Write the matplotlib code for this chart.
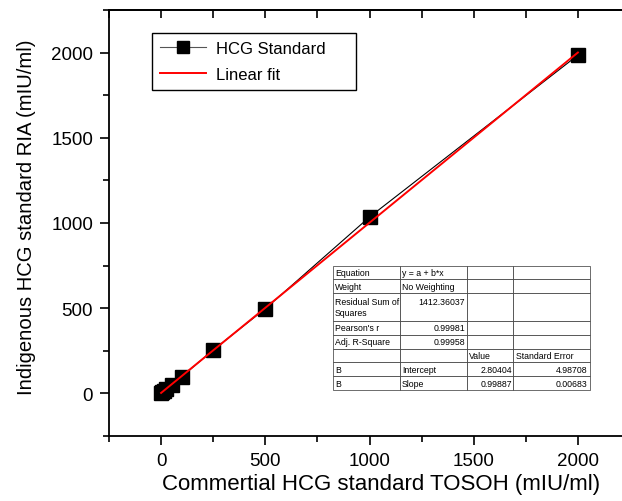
import numpy as np
import matplotlib
matplotlib.use('Agg')
import matplotlib.pyplot as plt
from matplotlib.ticker import MultipleLocator

plt.rcParams['font.family'] = ['Liberation Sans', 'DejaVu Sans']

# data
tosoh = [0, 6.25, 12.5, 25, 50, 100, 250, 500, 1000, 2000]
ria = [0, 6, 13, 24, 49, 99, 255, 497, 1035, 1985]

# fit parameters as printed in the table
intercept = 2.80404
slope = 0.99887

table_rows = [
    ['Equation', 'y = a + b*x', '', ''],
    ['Weight', 'No Weighting', '', ''],
    ['Residual Sum of\nSquares', '1412.36037\n', '', ''],
    ["Pearson's r", '0.99981', '', ''],
    ['Adj. R-Square', '0.99958', '', ''],
    ['', '', 'Value', 'Standard Error'],
    ['B', 'Intercept', '2.80404', '4.98708'],
    ['B', 'Slope', '0.99887', '0.00683'],
]

fig = plt.figure(figsize=(6.22, 5.02), dpi=100)
ax = fig.add_axes([109 / 622, 65 / 502, 521 / 622, 426 / 502])

ax.plot(tosoh, ria, color='black', lw=0.8, marker='s', ms=9.5,
        mfc='black', mec='black', label='HCG Standard', zorder=3)
xfit = np.array([0, 2000])
ax.plot(xfit, intercept + slope * xfit, color='red', lw=1.4,
        label='Linear fit', zorder=4)

ax.set_xlim(-250, 2250)
ax.set_ylim(-250, 2250)
ax.xaxis.set_major_locator(MultipleLocator(500))
ax.xaxis.set_minor_locator(MultipleLocator(250))
ax.yaxis.set_major_locator(MultipleLocator(500))
ax.yaxis.set_minor_locator(MultipleLocator(250))
ax.tick_params(which='both', labelsize=13.5, width=1.2, direction='out', pad=5)
ax.tick_params(which='major', length=6.5)
ax.tick_params(which='minor', length=4.5)
for s in ax.spines.values():
    s.set_linewidth(1.3)

# top ticks point inward
top = ax.secondary_xaxis('top')
top.xaxis.set_major_locator(MultipleLocator(250))
top.tick_params(direction='in', length=6, width=1.2, labeltop=False)
top.spines['top'].set_linewidth(1.3)

ax.set_xlabel('Commertial HCG standard TOSOH (mIU/ml)', fontsize=16)
ax.set_ylabel('Indigenous HCG standard RIA (mIU/ml)', fontsize=14.6)
ax.xaxis.set_label_coords(0.522, -0.087)
ax.yaxis.set_label_coords(-0.140, 0.516)

leg = ax.legend(loc='upper left', bbox_to_anchor=(0.083, 0.946), fontsize=12,
                fancybox=False, edgecolor='black', framealpha=1,
                handlelength=2.75, handletextpad=0.6, borderpad=0.45,
                borderaxespad=0, labelspacing=0.7)
leg.get_frame().set_linewidth(1.0)
leg.legend_handles[0].set_color('#555555')
leg.legend_handles[0].set_markerfacecolor('black')
leg.legend_handles[0].set_markeredgecolor('black')
leg.legend_handles[0].set_markersize(8.5)
for t in leg.get_texts():
    t.set_text(t.get_text() + '     ')

tbl = ax.table(cellText=table_rows, bbox=[0.430, 0.108, 0.493, 0.292],
               colWidths=[67, 68, 46, 77], zorder=5)
tbl.auto_set_font_size(False)
tbl.set_fontsize(6.3)
unit = 1.0 / 9
for (r, c), cell in tbl.get_celld().items():
    cell.set_linewidth(0.5)
    cell.set_edgecolor('#333333')
    cell.set_height(2 * unit if r == 2 else unit)
    txt = table_rows[r][c]
    numeric = txt[:1].isdigit()
    cell.set_text_props(ha='right' if numeric else 'left')
    cell._loc = 'right' if numeric else 'left'
    cell.PAD = 0.03

fig.savefig('out.png', dpi=100)
